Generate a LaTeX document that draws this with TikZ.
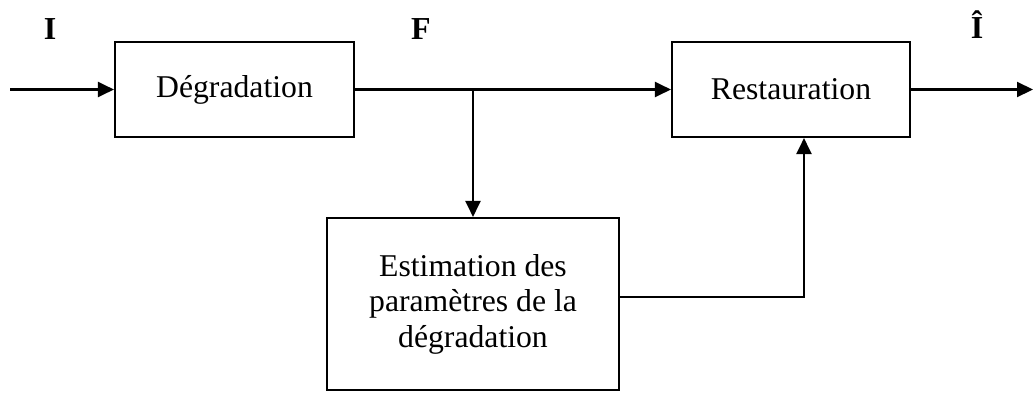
\documentclass[tikz,border=0pt]{standalone}
\usepackage{fontspec}
\setmainfont{Liberation Serif}
\usepackage{tikz}
\usetikzlibrary{arrows.meta}

\tikzset{
    bloc/.style={draw, line width=2.1pt, inner sep=0pt, align=center,
        font=\fontsize{31.7}{35.5}\selectfont},
    signal/.style={font=\fontsize{32}{36}\selectfont\bfseries},
    >={Triangle[length=16pt,width=15pt]}
}

\begin{document}
\begin{tikzpicture}[x=1pt, y=-1pt, line width=2.1pt]
    \useasboundingbox (0,0) rectangle (1034,392);
    \node[bloc, minimum width=239pt, minimum height=95pt] (degr) at (234.5,89.5) {Dégradation};
    \node[bloc, minimum width=238pt, minimum height=95pt] (rest) at (791,89.5) {Restauration};
    \node[bloc, minimum width=292pt, minimum height=172pt] (estim) at (473,304)
        {Estimation des\\paramètres de la\\dégradation};
    \node[signal] (sigI) at (50,29) {I};
    \node[signal] (sigF) at (421,29) {F};
    \node[signal] (sigIhat) at (977,25) {Î};
    \coordinate (entree) at (10,89.5);
    \coordinate (sortie) at (1033,89.5);
    \coordinate (branche) at (473,89.5);
    \draw[->] (entree) -- (degr.west);
    \draw[->] (degr.east) -- (rest.west);
    \draw[->] (rest.east) -- (sortie);
    \draw[->] (branche) -- (estim.north);
    \draw[->] ([yshift=7pt]estim.east) -| ([xshift=13pt]rest.south);
\end{tikzpicture}
\end{document}
